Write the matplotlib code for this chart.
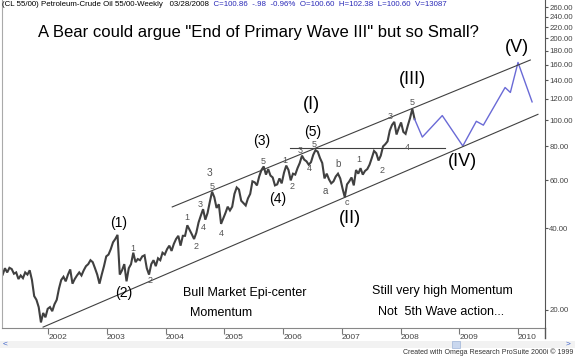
import numpy as np
import pandas as pd
import matplotlib
matplotlib.use("Agg")
import matplotlib.pyplot as plt
from matplotlib.ticker import FixedLocator, FuncFormatter, NullLocator
from matplotlib.patches import Rectangle
from matplotlib.lines import Line2D

plt.rcParams['font.family'] = ['Liberation Sans', 'DejaVu Sans']

# biweekly closes, crude oil continuous, Mar 2001 -> 28 Mar 2008
close = [
    # 2001
    27.0, 28.5, 27.5, 28.6, 28.3, 27.2, 27.5, 26.0, 26.8, 26.2, 27.5, 27.0, 28.0, 25.8,
    22.5, 21.8, 20.5, 18.0, 19.5, 18.8, 20.2,
    # 2002
    20.5, 19.8, 21.0, 21.8, 24.0, 25.8, 26.5, 25.5, 27.0, 28.2, 25.0, 26.0, 26.8,
    27.5, 26.8, 28.0, 29.0, 29.5, 30.5, 30.0, 28.5, 27.0, 25.0, 27.0, 29.0, 31.5,
    # 2003
    32.0, 33.5, 35.5, 36.5, 37.8, 27.0, 28.0, 29.5, 25.5, 28.5, 29.5, 32.5, 30.0,
    30.8, 30.5, 31.5, 31.8, 28.5, 27.0, 29.5, 30.5, 29.0, 31.0, 30.5, 32.5, 32.0,
    # 2004
    33.5, 34.5, 33.0, 35.0, 36.5, 37.5, 34.5, 37.5, 37.5, 41.0, 39.5, 38.0, 36.5,
    38.5, 42.0, 44.5, 47.0, 43.0, 45.5, 50.0, 54.5, 52.0, 47.5, 49.0, 41.5, 43.5,
    # 2005
    45.5, 48.0, 46.5, 48.0, 53.5, 56.5, 55.5, 50.5, 49.5, 48.5, 51.5, 53.5, 59.5,
    59.0, 57.5, 62.0, 65.5, 67.5, 63.0, 66.0, 62.5, 61.5, 57.5, 58.0, 61.0, 58.5,
    # 2006
    64.0, 68.0, 65.5, 60.0, 63.5, 63.0, 66.5, 69.5, 74.0, 71.5, 70.5, 68.5, 70.0,
    74.5, 77.5, 76.5, 72.5, 69.5, 61.0, 63.5, 60.5, 58.5, 59.5, 62.0, 63.5, 61.0,
    # 2007
    56.0, 52.0, 58.0, 59.5, 61.5, 57.5, 65.5, 63.5, 66.5, 63.0, 65.0, 66.0, 68.5,
    72.5, 77.0, 75.5, 71.0, 74.0, 80.0, 81.5, 83.5, 91.5, 96.0, 98.5, 88.5, 93.5,
    # 2008
    98.0, 90.5, 89.0, 95.5, 101.8, 110.0, 100.9,
]

# projected path (blue), after the last bar
proj_t = [2008.37, 2008.71, 2009.06, 2009.29, 2009.41, 2009.78, 2009.87, 2010.0, 2010.24]
proj_p = [86.6, 103.9, 80.3, 99.0, 95.8, 131.8, 126.4, 163.0, 116.7]

# channel lines and the horizontal level
upper_t, upper_p = [2004.11, 2010.21], [47.9, 166.4]
lower_t, lower_p = [2001.91, 2010.34], [17.3, 105.0]
level_t, level_p = [2006.12, 2008.76], [79.0, 79.0]

years = list(range(2002, 2011))
price_ticks = [20, 40, 60, 80, 100, 120, 140, 160, 180, 200, 220, 240, 260]

# wave labels: text, year, price, size, colour
big = 13
mid = 10
small = 6.5
waves = [
    ("(1)", 2003.19, 41.8, mid, "black"), ("(2)", 2003.29, 23.1, mid, "black"),
    ("1", 2003.44, 33.8, small, "#555"), ("2", 2003.73, 25.6, small, "#555"),
    ("1", 2004.36, 43.7, small, "#555"), ("2", 2004.52, 34.2, small, "#555"),
    ("3", 2004.58, 49.1, small, "#555"), ("4", 2004.64, 40.4, small, "#555"),
    ("5", 2004.79, 56.9, small, "#555"), ("3", 2004.75, 63.6, 7.5, "#555"),
    ("4", 2004.94, 38.4, small, "#555"),
    ("(3)", 2005.64, 83.6, mid, "black"), ("5", 2005.66, 70.2, small, "#555"),
    ("(4)", 2005.91, 51.3, mid, "black"),
    ("1", 2006.03, 70.8, small, "#555"), ("2", 2006.15, 56.9, small, "#555"),
    ("3", 2006.29, 77.0, small, "#555"), ("4", 2006.44, 66.6, small, "#555"),
    ("5", 2006.53, 81.0, small, "#555"),
    ("(5)", 2006.51, 90.6, mid, "black"), ("(I)", 2006.48, 114.0, big, "black"),
    ("a", 2006.71, 54.9, 7, "#555"), ("b", 2006.94, 68.9, 7, "#555"),
    ("c", 2007.09, 49.6, 6.5, "#555"), ("(II)", 2007.14, 43.6, big, "black"),
    ("1", 2007.29, 71.8, small, "#555"), ("2", 2007.68, 65.2, small, "#555"),
    ("3", 2007.82, 103.4, small, "#555"), ("4", 2008.11, 79.3, small, "#555"),
    ("5", 2008.20, 116.3, small, "#555"),
    ("(III)", 2008.21, 140.5, big, "black"), ("(IV)", 2009.06, 70.2, big, "black"),
    ("(V)", 2009.98, 185.0, big, "black"),
]

dates = pd.date_range(end="2008-03-28", periods=len(close), freq="14D")
t = np.asarray(dates.year + (dates.dayofyear - 1) / 365.25)

fig = plt.figure(figsize=(5.75, 3.57), dpi=100)
ax = fig.add_axes([2 / 575, 29 / 357, 543 / 575, 328 / 357])

ax.plot(t, close, color="#404040", lw=1.5, solid_joinstyle="miter")
ax.plot([t[-1]] + proj_t, [close[-1]] + proj_p, color="#6a6ad6", lw=1)
for xs, ys in [(upper_t, upper_p), (lower_t, lower_p), (level_t, level_p)]:
    ax.plot(xs, ys, color="#404040", lw=0.8)

for txt, x, y, s, c in waves:
    ax.text(x, y, txt, fontsize=s, color=c, ha="center", va="center")

ax.set_yscale("log")
ax.set_ylim(17.17, 276.7)
ax.set_xlim(2001.21, 2010.46)
ax.yaxis.set_major_locator(FixedLocator(price_ticks))
ax.yaxis.set_minor_locator(NullLocator())
ax.yaxis.set_major_formatter(FuncFormatter(lambda v, p: "%.2f" % v))
ax.yaxis.tick_right()
ax.tick_params(axis="y", direction="out", length=2.5, labelsize=5.6,
               labelcolor="#444", color="#555", pad=0.5)
ax.set_xticks(years)
ax.set_xticklabels([str(y) for y in years])
ax.tick_params(axis="x", direction="out", length=4, labelsize=6,
               labelcolor="#444", color="#777", pad=0)
for lab in ax.get_xticklabels():
    lab.set_horizontalalignment("left")

ax.spines["top"].set_visible(False)
ax.spines["right"].set_color("#555")
ax.spines["left"].set_color("#aaa")
ax.spines["bottom"].set_color("#888")

fig.text(258 / 575, 1 - 32 / 357, 'A Bear could argue "End of Primary Wave III" but so Small?',
         fontsize=12, ha="center", va="center")
fig.text(183 / 575, 1 - 293 / 357, "Bull Market Epi-center", fontsize=9, va="center")
fig.text(190 / 575, 1 - 313 / 357, "Momentum", fontsize=9, va="center")
fig.text(372 / 575, 1 - 291 / 357, "Still very high Momentum", fontsize=9, va="center")
fig.text(378 / 575, 1 - 312 / 357, "Not  5th Wave action...", fontsize=9, va="center")

# header line
head = fig.text(2 / 575, 1 - 5 / 357, "(CL 55/00) Petroleum-Crude Oil 55/00-Weekly   03/28/2008",
                fontsize=5.7, va="center")
ax.annotate("  C=100.86  -.98  -0.96%  O=100.60  H=102.38  L=100.60  V=13087",
            xy=(1, 0.5), xycoords=head, va="center", fontsize=5.7, color="#2a2ab8",
            annotation_clip=False)

# scroll bar and footer
fig.patches.append(Rectangle((0, 1 - 348 / 357), 1, 7 / 357, transform=fig.transFigure,
                             facecolor="#f2f2f2", edgecolor="none", zorder=-1))
fig.patches.append(Rectangle((452 / 575, 1 - 348 / 357), 8 / 575, 7 / 357,
                             transform=fig.transFigure, facecolor="#c9d7ee",
                             edgecolor="#9fb4d8", lw=0.5, zorder=-1))
fig.text(3 / 575, 1 - 344 / 357, "<", fontsize=6, color="#3a5fc8", va="center")
fig.text(566 / 575, 1 - 344 / 357, ">", fontsize=6, color="#3a5fc8", va="center")
fig.lines.append(Line2D([545 / 575, 545 / 575], [1 - 338 / 357, 29 / 357],
                        transform=fig.transFigure, color="#555", lw=1))
fig.text(573 / 575, 1 - 352.5 / 357, "Created with Omega Research ProSuite 2000i \u00a9 1999",
         fontsize=5, ha="right", va="center", color="#333")

fig.savefig("out.png", dpi=100)
